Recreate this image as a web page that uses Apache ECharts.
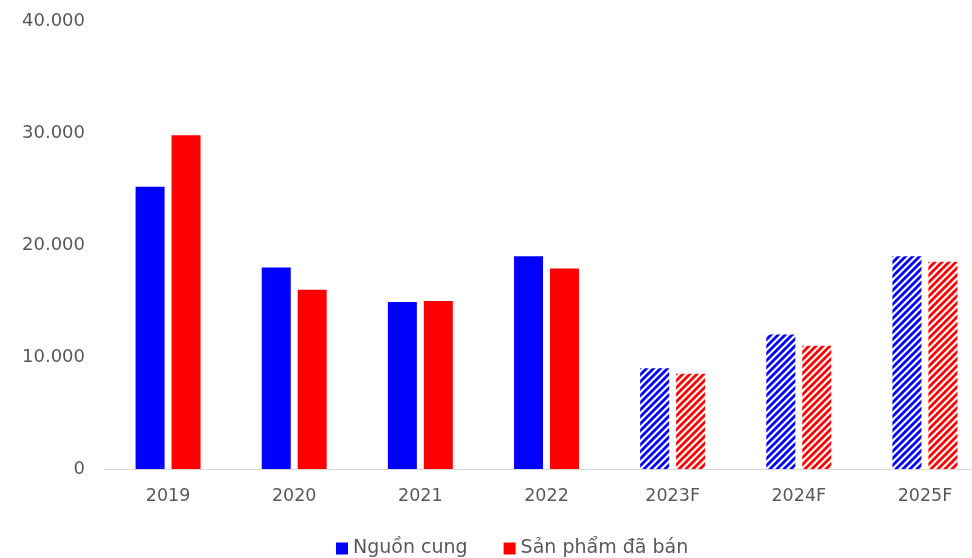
<!DOCTYPE html>
<html><head><meta charset="utf-8">
<script src="https://cdn.jsdelivr.net/npm/echarts@6/dist/echarts.min.js"></script>
<style>html,body{margin:0;padding:0;background:#fff}#c{width:972px;height:558px}</style>
</head><body><div id="c"></div>
<script>
const categories = ['2019','2020','2021','2022','2023F','2024F','2025F'];
const supply = [25200, 18000, 14900, 19000, 9000, 12000, 19000];
const sold = [29800, 16000, 15000, 17900, 8500, 11000, 18500];
const forecast = [false,false,false,false,true,true,true];
const yTicks = [0, 10000, 20000, 30000, 40000];

function stripes(color){
  const s = 7;
  const c = document.createElement('canvas');
  c.width = s; c.height = s;
  const g = c.getContext('2d');
  g.fillStyle = '#fff'; g.fillRect(0,0,s,s);
  g.strokeStyle = color; g.lineWidth = 2.8;
  g.beginPath();
  g.moveTo(-s, s*2); g.lineTo(s*2, -s);
  g.moveTo(-s, s); g.lineTo(s, -s);
  g.moveTo(0, s*2); g.lineTo(s*2, 0);
  g.stroke();
  return {image: c, repeat: 'repeat'};
}
function build(vals, color){
  return vals.map((v,i)=>({value:v, itemStyle:{color: forecast[i] ? stripes(color) : color}}));
}
const fmt = v => String(v).replace(/\B(?=(\d{3})+(?!\d))/g,'.');
const chart = echarts.init(document.getElementById('c'));
chart.setOption({
  animation:false,
  textStyle:{fontFamily:'DejaVu Sans'},
  grid:{left:105, width:883, top:21, bottom:89, outerBoundsMode:'none', containLabel:false},
  legend:{top:534, left:331, itemWidth:12, itemHeight:12, itemGap:36,
    icon:'rect', textStyle:{fontSize:19, color:'#595959', fontFamily:'DejaVu Sans'},
    data:[{name:'Nguồn cung', itemStyle:{color:'#0000ff'}},{name:'Sản phẩm đã bán', itemStyle:{color:'#ff0000'}}]},
  xAxis:{type:'category', data:categories,
    axisLine:{lineStyle:{color:'#d9d9d9', width:1}}, axisTick:{show:false},
    axisLabel:{fontSize:17.5, color:'#595959', margin:18}},
  yAxis:{type:'value', min:yTicks[0], max:yTicks[yTicks.length-1], interval:10000,
    splitLine:{show:false}, axisLine:{show:false}, axisTick:{show:false},
    axisLabel:{fontSize:18, color:'#595959', margin:20, formatter:fmt}},
  series:[
    {name:'Nguồn cung', type:'bar', data:build(supply,'#0000ff'), barWidth:29, barGap:'24%', itemStyle:{color:'#0000ff'}},
    {name:'Sản phẩm đã bán', type:'bar', data:build(sold,'#ff0000'), barWidth:29, itemStyle:{color:'#ff0000'}}
  ]
});
</script></body></html>
